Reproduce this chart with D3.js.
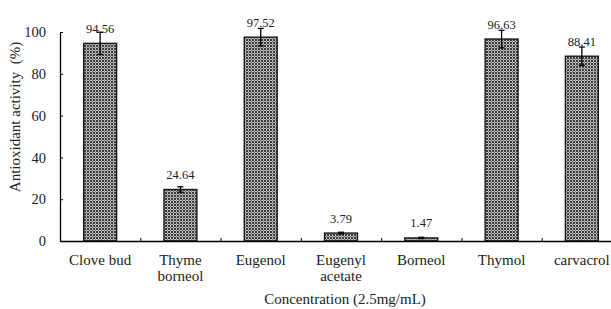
<!DOCTYPE html>
<html><head><meta charset="utf-8">
<script src="https://cdn.jsdelivr.net/npm/d3@7"></script>
<style>html,body{margin:0;padding:0;background:#fff;overflow:hidden}</style>
</head><body>
<svg id="chart" width="611" height="309"></svg>
<script>
const categories = [["Clove bud"],["Thyme","borneol"],["Eugenol"],["Eugenyl","acetate"],["Borneol"],["Thymol"],["carvacrol"]];
const values = [94.56, 24.64, 97.52, 3.79, 1.47, 96.63, 88.41];
const errors = [5.3, 1.3, 4.2, 0.4, 0.3, 4.2, 4.4];
const yTicks = [0, 20, 40, 60, 80, 100];
const yTitle = "Antioxidant activity\u2002(%)";
const xTitle = "Concentration (2.5mg/mL)";

const svg = d3.select("#chart");
const font = "'Liberation Serif','Times New Roman',serif";

const defs = svg.append("defs");
const pat = defs.append("pattern").attr("id","chk").attr("patternUnits","userSpaceOnUse")
  .attr("width",3).attr("height",3);
pat.append("rect").attr("width",3).attr("height",3).attr("fill","#bdbdbd");
pat.append("rect").attr("width",2).attr("height",2).attr("fill","#3c3c3c");
pat.append("rect").attr("x",2).attr("y",2).attr("width",1).attr("height",1).attr("fill","#777");

const idx = categories.map((d,i)=>i);
const x = d3.scaleBand().domain(idx).range([60, 622]).paddingInner(0).paddingOuter(0);
const y = d3.scaleLinear().domain([0,100]).range([241, 32]);
const bw = x.bandwidth()*0.41;

// bars
svg.append("g").selectAll("rect").data(values).join("rect")
  .attr("x",(d,i)=>x(i)+x.bandwidth()/2-bw/2)
  .attr("y",d=>y(d))
  .attr("width",bw)
  .attr("height",d=>y(0)-y(d))
  .attr("fill","url(#chk)")
  .attr("stroke","#1a1a1a").attr("stroke-width",1.4);

// error bars
const eg = svg.append("g").attr("stroke","#000").attr("stroke-width",1.3);
values.forEach((v,i)=>{
  const cx = x(i)+x.bandwidth()/2;
  eg.append("line").attr("x1",cx).attr("x2",cx).attr("y1",y(v+errors[i])).attr("y2",y(v-errors[i]));
  eg.append("line").attr("x1",cx-3).attr("x2",cx+3).attr("y1",y(v+errors[i])).attr("y2",y(v+errors[i]));
  eg.append("line").attr("x1",cx-3).attr("x2",cx+3).attr("y1",y(v-errors[i])).attr("y2",y(v-errors[i]));
});

// value labels
svg.append("g").selectAll("text").data(values).join("text")
  .attr("x",(d,i)=>x(i)+x.bandwidth()/2)
  .attr("y",d=>y(d)-10.5)
  .attr("text-anchor","middle")
  .attr("font-family",font).attr("font-size",12.5).attr("fill","#222")
  .text(d=>d.toFixed(2));

// y axis
const yAxis = svg.append("g").attr("transform","translate(60,0)")
  .call(d3.axisLeft(y).tickValues(yTicks).tickSizeInner(-3).tickSizeOuter(0).tickPadding(14));
yAxis.select(".domain").attr("stroke","#000").attr("stroke-width",1.3);
yAxis.selectAll(".tick line").attr("stroke","#000");
yAxis.selectAll("text").attr("font-family",font).attr("font-size",14.5).attr("fill","#222");

// x axis
const xAxis = svg.append("g").attr("transform","translate(0,241)")
  .call(d3.axisBottom(d3.scaleLinear().domain([0,7]).range([60,622])).tickValues([1,2,3,4,5,6]).tickSizeInner(-3).tickSizeOuter(0).tickFormat(""));
xAxis.select(".domain").attr("stroke","#000").attr("stroke-width",1.3);
xAxis.selectAll(".tick line").attr("stroke","#000");

// category labels
const cl = svg.append("g").selectAll("text").data(categories).join("text")
  .attr("x",(d,i)=>x(i)+x.bandwidth()/2)
  .attr("y",265)
  .attr("text-anchor","middle")
  .attr("font-family",font).attr("font-size",15).attr("fill","#222");
cl.each(function(d,i){
  const t = d3.select(this);
  d.forEach((s,j)=>t.append("tspan").attr("x",x(i)+x.bandwidth()/2).attr("dy",j?15.5:0).text(s));
});

// titles
svg.append("text").attr("x",345).attr("y",304).attr("text-anchor","middle")
  .attr("font-family",font).attr("font-size",15).attr("fill","#222").text(xTitle);
svg.append("text").attr("transform","translate(20,117) rotate(-90)").attr("text-anchor","middle")
  .attr("font-family",font).attr("font-size",15).attr("fill","#222").text(yTitle);
</script>
</body></html>
